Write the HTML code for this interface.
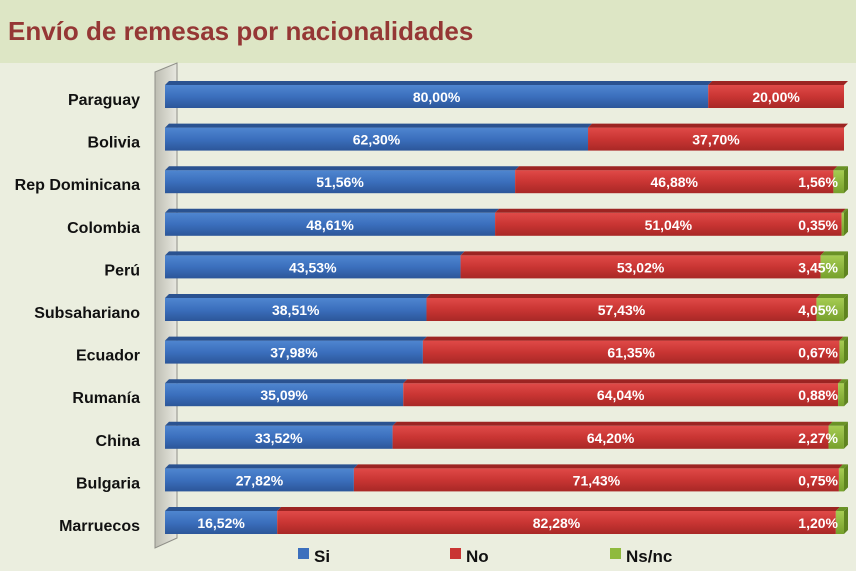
<!DOCTYPE html>
<html><head><meta charset="utf-8"><style>
body{margin:0;width:856px;height:566px;overflow:hidden;background:#ebeedf;font-family:"Liberation Sans",sans-serif}
</style></head><body>
<svg width="856" height="566" xmlns="http://www.w3.org/2000/svg">
<defs>
<linearGradient id="gb" x1="0" y1="0" x2="0" y2="1"><stop offset="0" stop-color="#4f86d0"/><stop offset="0.5" stop-color="#3b6fbd"/><stop offset="1" stop-color="#2c5699"/></linearGradient>
<linearGradient id="gr" x1="0" y1="0" x2="0" y2="1"><stop offset="0" stop-color="#e04a48"/><stop offset="0.5" stop-color="#c93533"/><stop offset="1" stop-color="#a82826"/></linearGradient>
<linearGradient id="gg" x1="0" y1="0" x2="0" y2="1"><stop offset="0" stop-color="#a6cc52"/><stop offset="1" stop-color="#76a02c"/></linearGradient>
<linearGradient id="gw" x1="0" y1="0" x2="1" y2="0"><stop offset="0" stop-color="#bdbdb2"/><stop offset="1" stop-color="#e8e8e0"/></linearGradient>
</defs>
<rect x="0" y="0" width="856" height="63" fill="#dde6c5"/>
<text x="8" y="40" font-size="26" font-weight="bold" fill="#953735" font-family="Liberation Sans, sans-serif">Envío de remesas por nacionalidades</text>
<polygon points="155,72 177,63 177,538 155,548" fill="url(#gw)" stroke="#8f8f88" stroke-width="1"/>
<g id="bars"></g>
<g font-size="17" font-weight="bold" fill="#111">
<rect x="298" y="548" width="11" height="11" fill="#3b6fbd"/><text x="314" y="562">Si</text>
<rect x="450" y="548" width="11" height="11" fill="#c93533"/><text x="466" y="562">No</text>
<rect x="610" y="548" width="11" height="11" fill="#8fba3e"/><text x="626" y="562">Ns/nc</text>
</g>
</svg>
<script>
const categories=["Paraguay","Bolivia","Rep Dominicana","Colombia","Perú","Subsahariano","Ecuador","Rumanía","China","Bulgaria","Marruecos"];
const siValues=[80.00,62.30,51.56,48.61,43.53,38.51,37.98,35.09,33.52,27.82,16.52];
const noValues=[20.00,37.70,46.88,51.04,53.02,57.43,61.35,64.04,64.20,71.43,82.28];
const nsValues=[0,0,1.56,0.35,3.45,4.05,0.67,0.88,2.27,0.75,1.20];
const NS="http://www.w3.org/2000/svg";
const x0=165,x100=844;
function xs(v){return x0+(x100-x0)*v/100;}
function yRow(i){return 81+i*42.6;}
function fmt(v){return v.toFixed(2).replace('.',',')+'%';}
const g=document.getElementById('bars');
function mk(tag,attrs){const e=document.createElementNS(NS,tag);for(const k in attrs)e.setAttribute(k,attrs[k]);g.appendChild(e);return e;}
function seg(a,b,y,fill,top,name){
 const r=mk('rect',{x:xs(a),y:y+4,width:Math.max(0,xs(b)-xs(a)),height:23,fill:fill});
 
 
 const t=mk('polygon',{points:`${xs(a)},${y+4} ${xs(a)+4},${y} ${xs(b)+4},${y} ${xs(b)},${y+4}`,fill:top});
 
 
}
function lbl(x,y,txt,anchor,name){
 const t=mk('text',{x:x,y:y,'text-anchor':anchor,'font-size':14,'font-weight':'bold',fill:'#fff'});
 t.textContent=txt;
 
 
}
categories.forEach((c,i)=>{
 const y=yRow(i);
 const t=mk('text',{x:140,y:y+24,'text-anchor':'end','font-size':16,'font-weight':'bold',fill:'#111'});
 t.textContent=c;
 
 
 const s=siValues[i],n=noValues[i],z=nsValues[i];
 seg(0,s,y,'url(#gb)','#2a5290','bar-si');
 seg(s,s+n,y,'url(#gr)','#9c2422','bar-no');
 if(z>0){seg(s+n,s+n+z,y,'url(#gg)','#6a9226','bar-nsnc');
  const sq=mk('polygon',{points:`${xs(s+n+z)},${y+4} ${xs(s+n+z)+4},${y} ${xs(s+n+z)+4},${y+23} ${xs(s+n+z)},${y+27}`,fill:'#5f8420'});
  
  }
 lbl((xs(0)+xs(s))/2,y+21,fmt(s),'middle','value-si');
 lbl((xs(s)+xs(s+n))/2,y+21,fmt(n),'middle','value-no');
 if(z>0)lbl(838,y+21,fmt(z),'end','value-nsnc');
});
</script>
</body></html>
